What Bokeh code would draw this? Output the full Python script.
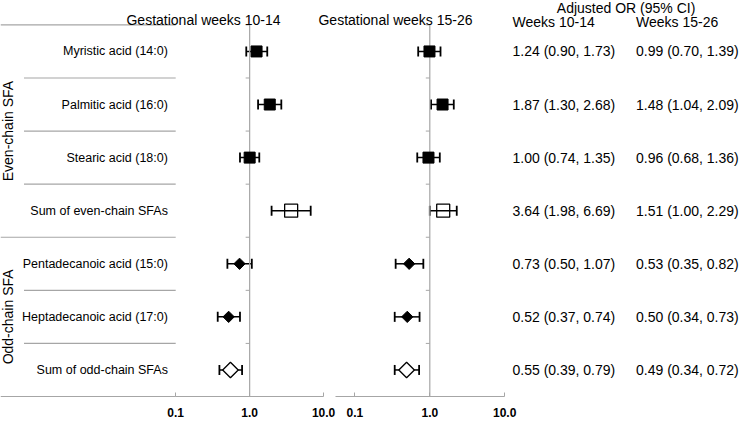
import math
from bokeh.plotting import figure
from bokeh.models import (Range1d, LogScale, LogAxis, FixedTicker, PrintfTickFormatter,
                          Whisker, ColumnDataSource, TeeHead)
from bokeh.embed import file_html
from bokeh.resources import INLINE
from bokeh.core.properties import value

# ---------------- data ----------------
labels = ["Myristic acid (14:0)", "Palmitic acid (16:0)", "Stearic acid (18:0)",
          "Sum of even-chain SFAs", "Pentadecanoic acid (15:0)",
          "Heptadecanoic acid (17:0)", "Sum of odd-chain SFAs"]
groups = ["Even-chain SFA", "Odd-chain SFA"]
group_sizes = [4, 3]
or_1014 = [1.24, 1.87, 1.00, 3.64, 0.73, 0.52, 0.55]
lo_1014 = [0.90, 1.30, 0.74, 1.98, 0.50, 0.37, 0.39]
hi_1014 = [1.73, 2.68, 1.35, 6.69, 1.07, 0.74, 0.79]
or_1526 = [0.99, 1.48, 0.96, 1.51, 0.53, 0.50, 0.49]
lo_1526 = [0.70, 1.04, 0.68, 1.00, 0.35, 0.34, 0.34]
hi_1526 = [1.39, 2.09, 1.36, 2.29, 0.82, 0.73, 0.72]
marker_kind = ["square", "square", "square", "square_open",
               "diamond", "diamond", "diamond_open"]
panel_titles = ["Gestational weeks 10-14", "Gestational weeks 15-26"]
col_titles = ["Weeks 10-14", "Weeks 15-26"]
header = "Adjusted OR (95% CI)"
tick_values = [0.1, 1, 10]

# ---------------- layout ----------------
W, H = 740, 419
AXIS_Y = 396.0          # pixel row of the x axes
FRAME_TOP_ROW = 24.4    # pixel row of the top table line
n = len(labels)
unit = (AXIS_Y - FRAME_TOP_ROW) / n
y_top = n + 0.5 + FRAME_TOP_ROW / unit
y_bottom = 0.5 - (H - AXIS_Y) / unit


def iy(py):
    return n + 0.5 + (FRAME_TOP_ROW - py) / unit


def log_range(px_lo, px_hi):
    dec = (px_hi - px_lo) / 2.0
    start = 10 ** (-1 - px_lo / dec)
    end = 10 ** (1 + (W - px_hi) / dec)
    return Range1d(start, end), dec


FONT = "Liberation Sans"
GRAY = "#a6a6a6"
rows = [n - i for i in range(n)]

p = figure(width=W, height=H, x_range=Range1d(0, W), y_range=Range1d(y_bottom, y_top),
           output_backend="svg", toolbar_location=None, title=None,
           x_axis_location=None, y_axis_location=None,
           min_border_left=0, min_border_right=0, min_border_top=0, min_border_bottom=0)
p.outline_line_color = None
p.xgrid.visible = False
p.ygrid.visible = False

P1_LO, P1_HI = 175.2, 323.1
P2_LO, P2_HI, P2_START = 354.4, 504.2, 334.8
r1, dec1 = log_range(P1_LO, P1_HI)
r2, dec2 = log_range(P2_LO, P2_HI)
p.extra_x_ranges = {"p1": r1, "p2": r2}
p.extra_x_scales = {"p1": LogScale(), "p2": LogScale()}

# ---------------- left table ----------------
seps = [n + 0.5 - k for k in range(n + 1)]
bounds = set()
c = n + 0.5
bounds.add(c)
for g in group_sizes:
    c -= g
    bounds.add(c)
x0s = [0 if s in bounds else 23.5 for s in seps]
p.segment(x0=x0s, y0=seps, x1=[P1_LO] * len(seps), y1=seps, line_color=GRAY, line_width=1.2)

p.text(x=[167.4] * n, y=rows, text=labels, text_align="right", text_baseline="middle",
       text_font=value(FONT), text_font_size="12.5px", text_color="black")

gc = []
c = n + 0.5
for g in group_sizes:
    gc.append(c - g / 2.0)
    c -= g
p.text(x=[7.8] * len(groups), y=gc, text=groups, angle=math.pi / 2, text_align="center",
       text_baseline="middle", text_font=value(FONT), text_font_size="14px", text_color="black")

# ---------------- panels ----------------
panels = [("p1", dec1, 0.1, or_1014, lo_1014, hi_1014, 203.0),
          ("p2", dec2, 10 ** (-1 - (P2_LO - P2_START) / dec2), or_1526, lo_1526, hi_1526, 395.0)]

for name, dec, bstart, ors, los, his, tx in panels:
    # reference line at OR = 1 with small ticks at row separators
    p.segment(x0=1, y0=0.5, x1=1, y1=n + 0.5, x_range_name=name, line_color=GRAY, line_width=1.2)
    p.segment(x0=[10 ** (-4.0 / dec)] * n, y0=seps[:n], x1=[1] * n, y1=seps[:n],
              x_range_name=name, line_color=GRAY, line_width=1)

    ax = LogAxis(x_range_name=name, ticker=FixedTicker(ticks=tick_values),
                 formatter=PrintfTickFormatter(format="%.1f"), fixed_location=0.5,
                 bounds=(bstart, 10))
    ax.axis_line_color = GRAY
    ax.axis_line_width = 1.2
    ax.major_tick_line_color = GRAY
    ax.major_tick_in = 4
    ax.major_tick_out = 0
    ax.minor_tick_line_color = None
    ax.major_label_text_font = FONT
    ax.major_label_text_font_style = "bold"
    ax.major_label_text_font_size = "12px"
    ax.major_label_text_color = "black"
    ax.major_label_standoff = 11
    p.add_layout(ax, "below")

    src = ColumnDataSource(dict(y=rows, est=ors, lo=los, hi=his, kind=marker_kind))
    wk = Whisker(source=src, base="y", lower="lo", upper="hi", dimension="width",
                 x_range_name=name, line_color="black", line_width=1.5, level="underlay",
                 upper_head=TeeHead(size=10, line_color="black", line_width=1.8),
                 lower_head=TeeHead(size=10, line_color="black", line_width=1.8))
    p.add_layout(wk)

    def pick(kind):
        idx = [i for i, k in enumerate(marker_kind) if k == kind]
        return [ors[i] for i in idx], [rows[i] for i in idx]

    xs, ys = pick("square")
    p.scatter(xs, ys, marker="square", size=11, fill_color="black", line_color="black",
              x_range_name=name)
    xs, ys = pick("square_open")
    p.scatter(xs, ys, marker="square", size=13, fill_color=None, line_color="black",
              line_width=1.3, x_range_name=name)
    xs, ys = pick("diamond")
    p.scatter(xs, ys, marker="square", angle=math.pi / 4, size=8, fill_color="black",
              line_color="black", x_range_name=name)
    xs, ys = pick("diamond_open")
    p.scatter(xs, ys, marker="square", angle=math.pi / 4, size=11, fill_color="white",
              line_color="black", line_width=1.3, x_range_name=name)

# ---------------- headers and value columns ----------------
p.text(x=[panels[0][6], panels[1][6]], y=[iy(19.5)] * 2, text=panel_titles, text_align="center",
       text_baseline="middle", text_font=value(FONT), text_font_size="14px", text_color="black")
p.text(x=[625.6], y=[iy(7.0)], text=[header], text_align="center", text_baseline="middle",
       text_font=value(FONT), text_font_size="14px", text_color="black")
col_x = [512.0, 635.5]
p.text(x=col_x, y=[iy(21.0)] * 2, text=col_titles, text_align="left", text_baseline="middle",
       text_font=value(FONT), text_font_size="14px", text_color="black")
for cx, ors, los, his in [(col_x[0], or_1014, lo_1014, hi_1014),
                          (col_x[1], or_1526, lo_1526, hi_1526)]:
    txt = [f"{a:.2f} ({b:.2f}, {c2:.2f})" for a, b, c2 in zip(ors, los, his)]
    p.text(x=[cx] * n, y=rows, text=txt, text_align="left", text_baseline="middle",
           text_font=value(FONT), text_font_size="14px", text_color="black")

open("out.html", "w").write(file_html(p, INLINE))
